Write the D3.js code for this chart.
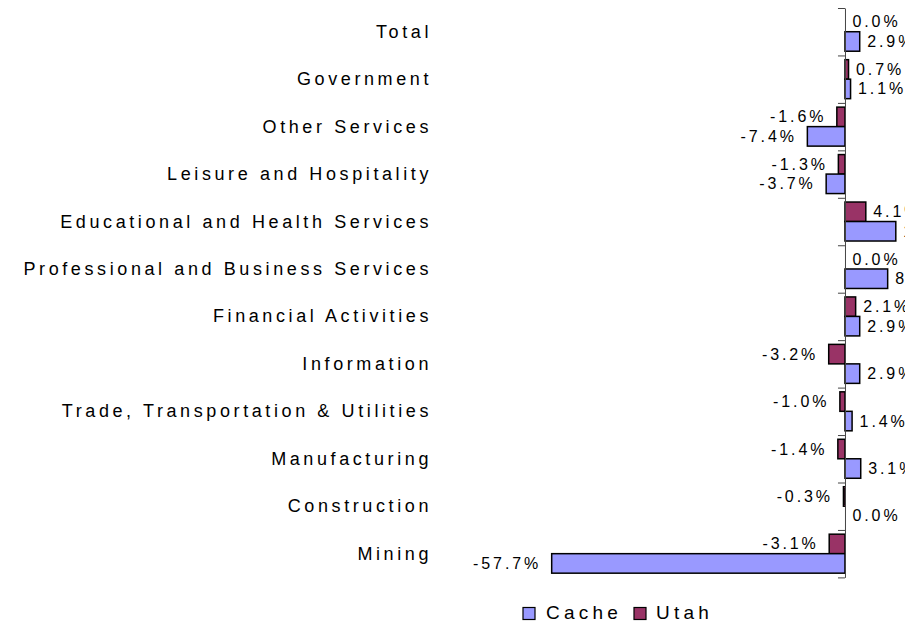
<!DOCTYPE html>
<html>
<head>
<meta charset="utf-8">
<script src="https://cdn.jsdelivr.net/npm/d3@7"></script>
<style>
  body { margin: 0; background: #fff; }
  svg { display: block; font-family: "Liberation Sans", Arial, sans-serif; }
</style>
</head>
<body>
<svg id="chart" width="905" height="625"></svg>
<script>
// industries, top to bottom
var categories = [
  "Total",
  "Government",
  "Other Services",
  "Leisure and Hospitality",
  "Educational and Health Services",
  "Professional and Business Services",
  "Financial Activities",
  "Information",
  "Trade, Transportation & Utilities",
  "Manufacturing",
  "Construction",
  "Mining"
];

// percent change by area
var cacheValues = [2.9, 1.1, -7.4, -3.7, 10.0, 8.4, 2.9, 2.9, 1.4, 3.1, 0.0, -57.7];
var utahValues  = [0.0, 0.7, -1.6, -1.3, 4.1, 0.0, 2.1, -3.2, -1.0, -1.4, -0.3, -3.1];

var seriesNames = ["Utah", "Cache"];
var seriesColors = { Cache: "#9999ff", Utah: "#993366" };

var svg = d3.select("#chart");

// scales
var x = d3.scaleLinear().domain([-60, 10]).range([540, 895.8]);
var y0 = d3.scaleBand().domain(categories).range([8, 577.4]);
var y1 = d3.scaleBand().domain(seriesNames).range([0, y0.bandwidth()]).paddingOuter(0.217);

// build rows for drawing
var rows = categories.map(function(c, i) {
  return { cat: c, values: [
    { name: "Utah", v: utahValues[i] },
    { name: "Cache", v: cacheValues[i] }
  ]};
});

// category labels
svg.append("g").selectAll("text")
  .data(categories)
  .join("text")
  .attr("x", 432)
  .attr("y", function(d) { return y0(d) + y0.bandwidth() / 2 + 6; })
  .attr("text-anchor", "end")
  .style("font-size", "18px")
  .style("letter-spacing", "3.6px")
  .attr("fill", "#000")
  .text(function(d) { return d; });

// bars
var groups = svg.append("g").selectAll("g")
  .data(rows)
  .join("g")
  .attr("transform", function(d) { return "translate(0," + y0(d.cat) + ")"; });

groups.selectAll("rect")
  .data(function(d) { return d.values; })
  .join("rect")
  .attr("x", function(d) { return x(Math.min(0, d.v)); })
  .attr("y", function(d) { return y1(d.name); })
  .attr("width", function(d) { return Math.abs(x(d.v) - x(0)); })
  .attr("height", y1.bandwidth())
  .attr("fill", function(d) { return seriesColors[d.name]; })
  .attr("stroke", "#000")
  .attr("stroke-width", 1.5);

// value labels
groups.selectAll("text")
  .data(function(d) { return d.values; })
  .join("text")
  .attr("x", function(d) { return d.v < 0 ? x(d.v) - 10.5 : x(d.v) + 7.5; })
  .attr("y", function(d) { return y1(d.name) + y1.bandwidth() / 2 + 5.5; })
  .attr("text-anchor", function(d) { return d.v < 0 ? "end" : "start"; })
  .style("font-size", "16px")
  .style("letter-spacing", "2.9px")
  .attr("fill", "#000")
  .text(function(d) { return d.v.toFixed(1) + "%"; });

// zero axis with ticks between categories
var tickScale = d3.scaleLinear().domain([0, categories.length]).range(y0.range());
var axis = svg.append("g")
  .attr("transform", "translate(" + x(0) + ",0)")
  .call(d3.axisLeft(tickScale).ticks(categories.length).tickSize(7).tickSizeOuter(0).tickFormat(""));
axis.select(".domain").attr("stroke", "#444").attr("stroke-width", 1);
axis.selectAll(".tick line").attr("stroke", "#444").attr("stroke-width", 1);

// legend
var legendItems = [
  { name: "Cache", sx: 523, tx: 546 },
  { name: "Utah", sx: 634, tx: 656 }
];
var legend = svg.append("g").selectAll("g")
  .data(legendItems)
  .join("g");
legend.append("rect")
  .attr("x", function(d) { return d.sx; })
  .attr("y", 607.5)
  .attr("width", 12)
  .attr("height", 12)
  .attr("fill", function(d) { return seriesColors[d.name]; })
  .attr("stroke", "#000")
  .attr("stroke-width", 1.2);
legend.append("text")
  .attr("x", function(d) { return d.tx; })
  .attr("y", 618.5)
  .style("font-size", "19px")
  .style("letter-spacing", "4.2px")
  .attr("fill", "#000")
  .text(function(d) { return d.name; });
</script>
</body>
</html>
